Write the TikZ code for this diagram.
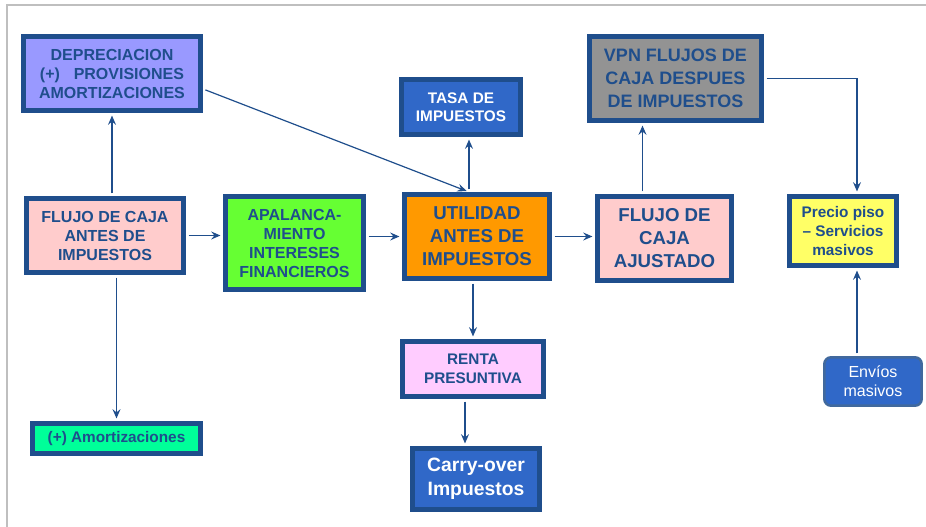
\documentclass[tikz,border=0pt]{standalone}
\usepackage{fontspec}
\setmainfont{Liberation Sans}
\usetikzlibrary{arrows.meta}
\definecolor{navy}{HTML}{1F4E8C}
\definecolor{lavender}{HTML}{9999FF}
\definecolor{rosa}{HTML}{FFCCCC}
\definecolor{lima}{HTML}{66FF33}
\definecolor{naranja}{HTML}{FF9900}
\definecolor{azul}{HTML}{3068C8}
\definecolor{gris}{HTML}{939393}
\definecolor{amarillo}{HTML}{FFFF66}
\definecolor{lila}{HTML}{FFCCFF}
\definecolor{menta}{HTML}{00FF99}
\begin{document}
\begin{tikzpicture}[x=0.75pt,y=-0.75pt,
  every node/.style={align=center, text=navy, inner sep=0pt,
    font=\fontsize{12}{14.25}\selectfont\bfseries},
  flowbox/.style={draw=navy, line width=3.75pt},
  link/.style={->, draw=navy, line width=0.9pt, shorten >=1.9pt, shorten <=1.9pt},
  >={Stealth[length=7pt,width=6pt,inset=2.5pt]}]
  \useasboundingbox (0,0) rectangle (926,527);
  \draw[black!25, line width=2pt] (7,527) -- (7,5) -- (926,5);

  \node[flowbox, fill=lavender, minimum width=132.75pt, minimum height=55.5pt] (depr) at (112,73.5)
    {DEPRECIACION\\ (+)\hspace{7pt} PROVISIONES\\ AMORTIZACIONES};
  \node[flowbox, fill=rosa, minimum width=117.75pt, minimum height=55.5pt] (flujoA) at (105,235.5)
    {FLUJO DE CAJA\\ ANTES DE\\ IMPUESTOS};
  \node[flowbox, fill=lima, minimum width=103.5pt, minimum height=69.75pt] (apal) at (294.5,243)
    {APALANCA-\\ MIENTO\\ INTERESES\\ FINANCIEROS};
  \node[flowbox, fill=naranja, minimum width=108.75pt, minimum height=63pt,
    font=\fontsize{14}{17.25}\selectfont\bfseries] (util) at (477,236.5)
    {UTILIDAD\\ ANTES DE\\ IMPUESTOS};
  \node[flowbox, fill=azul, text=white, minimum width=89.25pt, minimum height=41.25pt,
    font=\fontsize{11.5}{13.5}\selectfont\bfseries] (tasa) at (461,107)
    {TASA DE\\ IMPUESTOS};
  \node[flowbox, fill=gris, minimum width=129pt, minimum height=63pt,
    font=\fontsize{13.5}{17.25}\selectfont\bfseries] (vpn) at (675.5,78.5)
    {VPN FLUJOS DE\\ CAJA DESPUES\\ DE IMPUESTOS};
  \node[flowbox, fill=rosa, minimum width=100.5pt, minimum height=63pt,
    font=\fontsize{14}{17.25}\selectfont\bfseries] (flujoJ) at (664.5,238.5)
    {FLUJO DE\\ CAJA\\ AJUSTADO};
  \node[flowbox, fill=amarillo, minimum width=80.25pt, minimum height=51.75pt,
    font=\fontsize{11.5}{14.25}\selectfont\bfseries] (precio) at (843,231)
    {Precio piso\\ -- Servicios\\ masivos};
  \node[flowbox, fill=lila, minimum width=105.75pt, minimum height=41.25pt,
    font=\fontsize{11.5}{14}\selectfont\bfseries] (renta) at (473,369)
    {RENTA\\ PRESUNTIVA};
  \node[flowbox, fill=azul, text=white, minimum width=95.25pt, minimum height=45.75pt,
    font=\fontsize{14.5}{17.75}\selectfont\bfseries] (carry) at (476,479)
    {Carry-over\\ Impuestos};
  \node[flowbox, fill=menta, minimum width=126pt, minimum height=22.5pt,
    font=\fontsize{11.5}{14}\selectfont\bfseries] (amort) at (116.5,438.5)
    {(+) Amortizaciones};
  \node[draw=navy!85, line width=1.9pt, rounded corners=5pt, fill=azul, text=white,
    minimum width=73pt, minimum height=36.3pt,
    font=\fontsize{12}{14.25}\selectfont] (envios) at (873,381.5)
    {Envíos\\ masivos};

  \draw[link] (flujoA.north -| depr.south) -- (depr.south);
  \draw[link] (flujoA.south -| amort.north) -- (amort.north);
  \draw[link] (flujoA.east) -- (apal.west |- flujoA.east);
  \draw[link] (apal.east |- util.west) -- (util.west);
  \draw[link] ([yshift=-11.6pt]depr.east) -- ([xshift=-6pt]util.north);
  \draw[link] ([xshift=-6pt]util.north) -- ([xshift=-6pt]util.north |- tasa.south);
  \draw[link] (util.east) -- (util.east -| flujoJ.west);
  \draw[link] (util.south -| renta.north) -- (renta.north);
  \draw[link] ([xshift=-6pt]renta.south) -- ([xshift=-6pt]renta.south |- carry.north);
  \draw[link] ([xshift=-16.5pt]flujoJ.north) -- ([xshift=-16.5pt]flujoJ.north |- vpn.south);
  \draw[link] (vpn.east) -| ([xshift=10.5pt]precio.north);
  \draw[link] ([xshift=-12pt]envios.north) -- ([xshift=-12pt]envios.north |- precio.south);
\end{tikzpicture}
\end{document}
